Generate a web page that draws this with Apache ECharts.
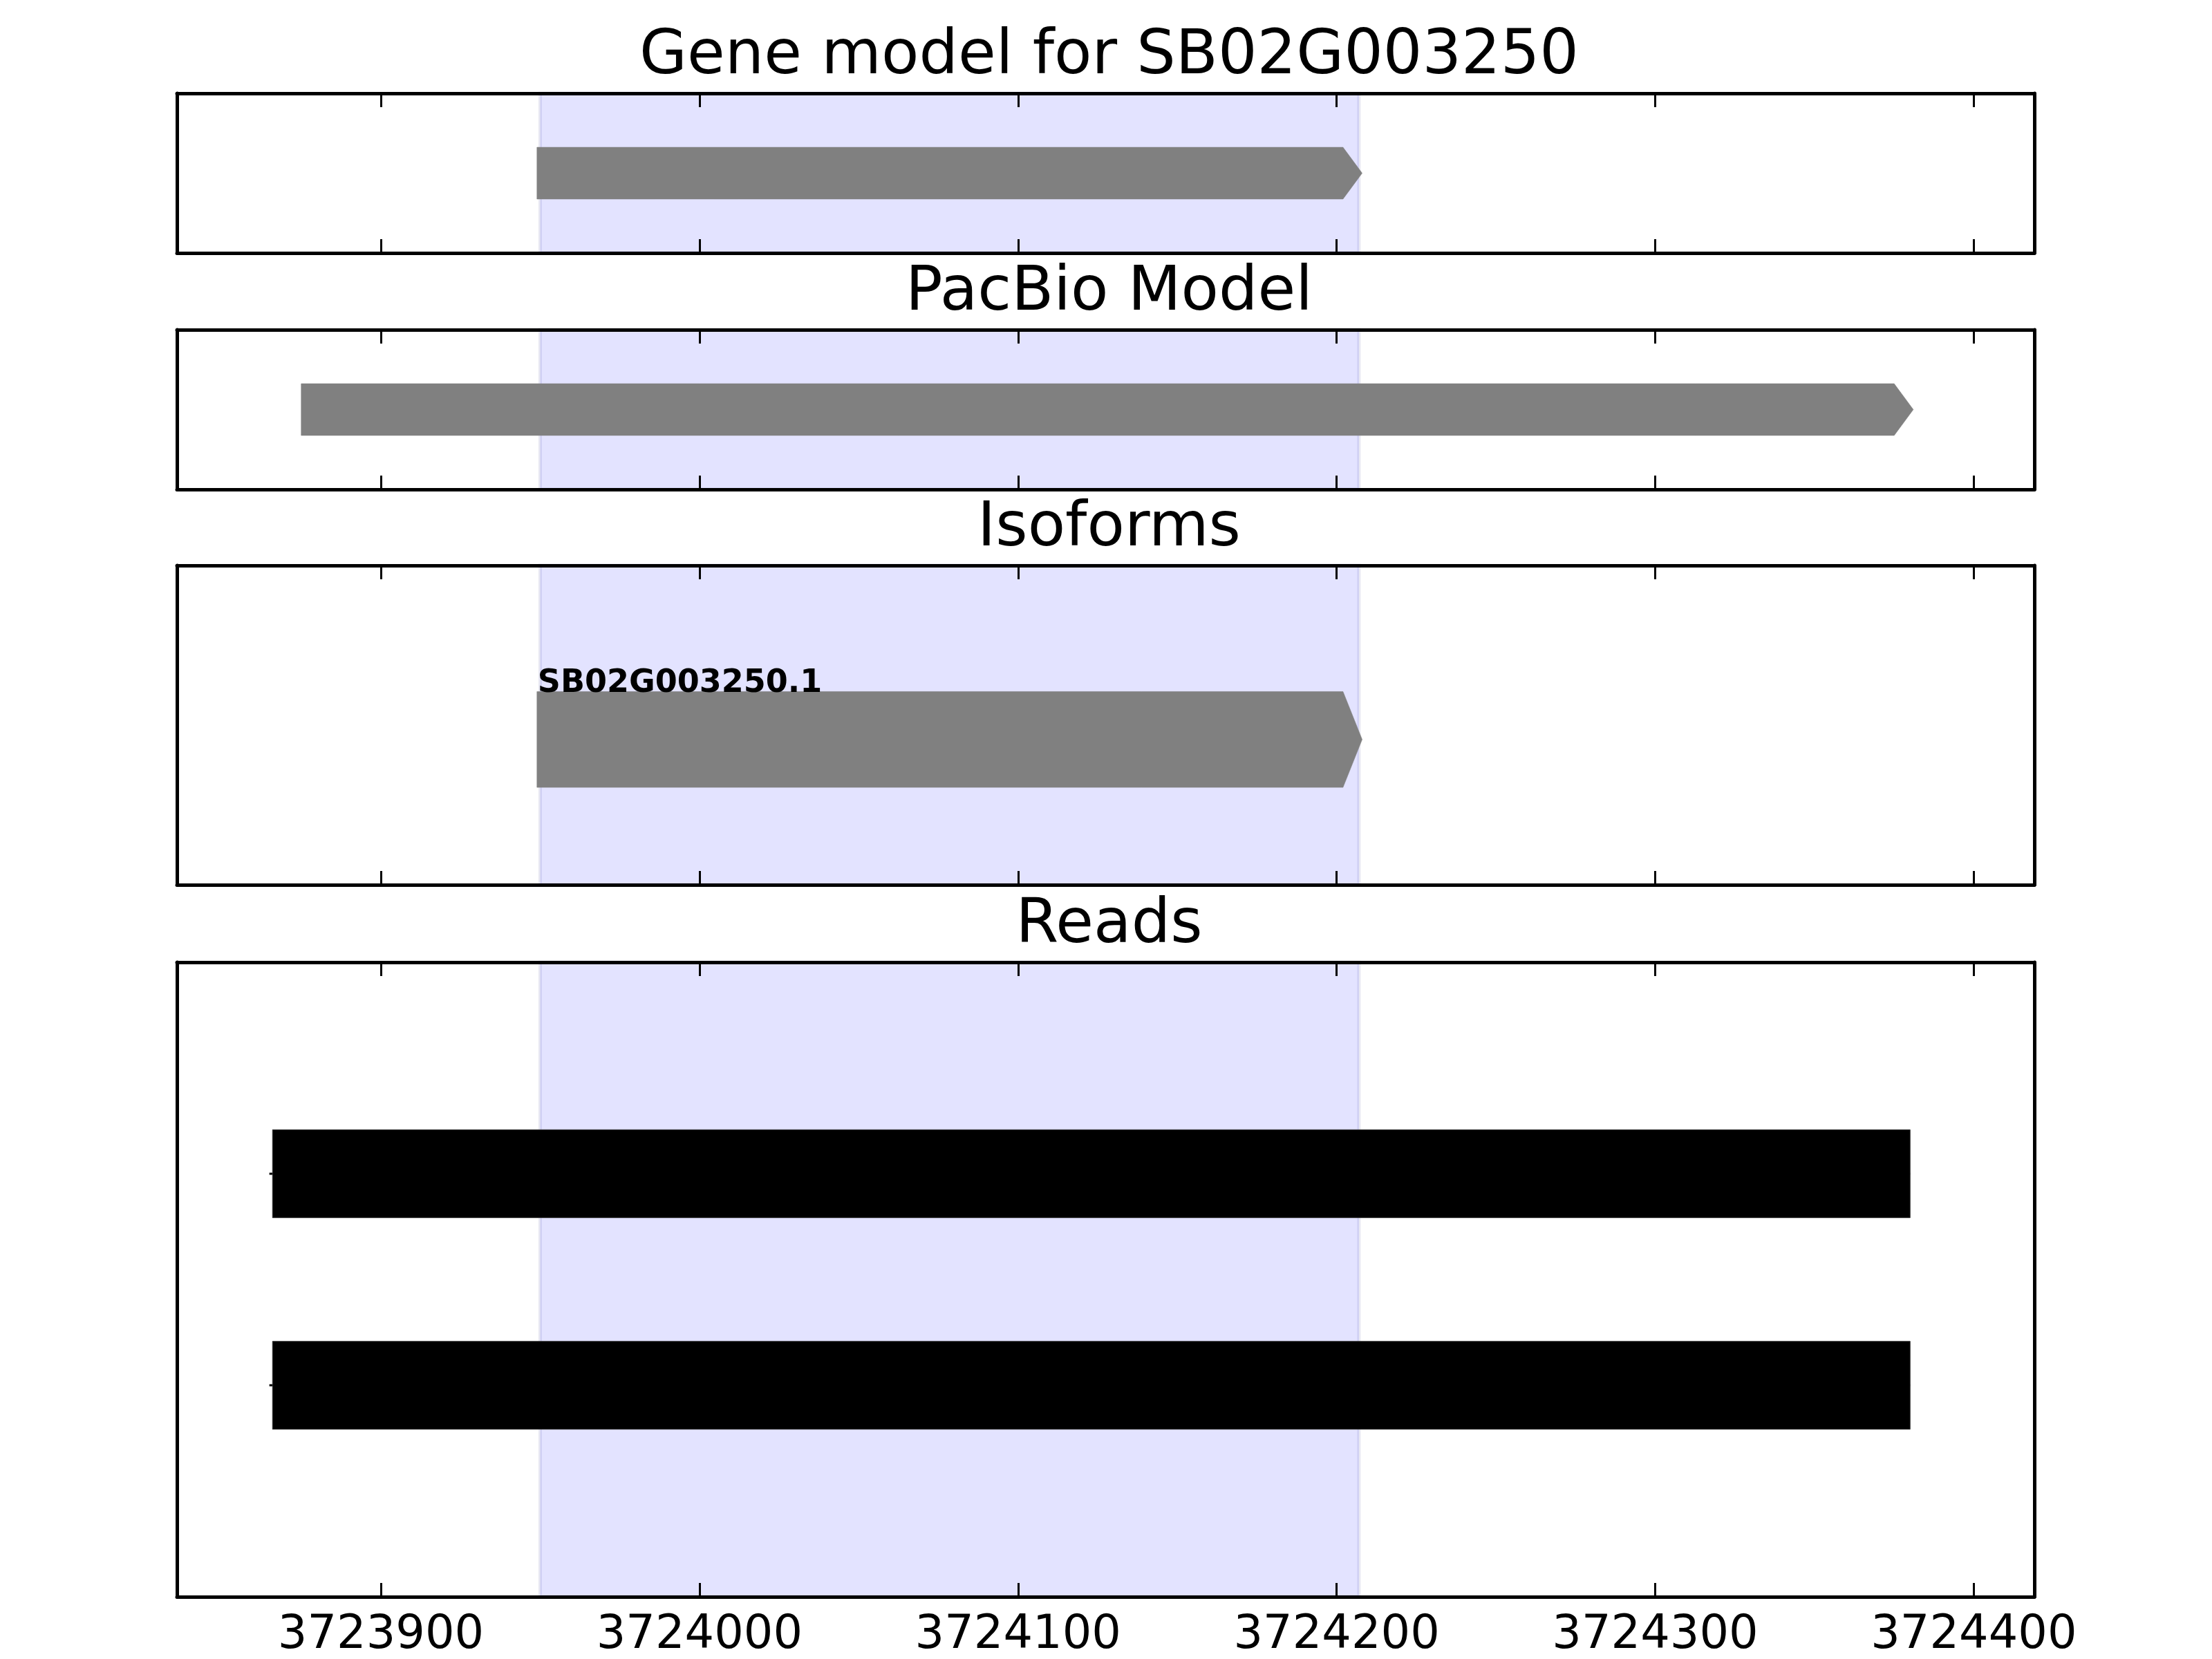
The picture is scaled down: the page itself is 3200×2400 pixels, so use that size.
<!DOCTYPE html>
<html>
<head>
<meta charset="utf-8">
<script src="https://cdn.jsdelivr.net/npm/echarts@6/dist/echarts.min.js"></script>
<style>
html,body{margin:0;padding:0;background:#fff;}
#chart{width:3200px;height:2400px;}
</style>
</head>
<body>
<div id="chart"></div>
<script>
// ---- data ----
const panelTitles = ['Gene model for SB02G003250', 'PacBio Model', 'Isoforms', 'Reads'];
const xMin = 3723836;
const xMax = 3724419;
const tickValues = [3723900, 3724000, 3724100, 3724200, 3724300, 3724400];
const shadeStart = 3723950;
const shadeEnd = 3724207;

const geneStart = [3723949];
const geneEnd = [3724208];

const pacbioStart = [3723875];
const pacbioEnd = [3724381];

const isoformNames = ['SB02G003250.1'];
const isoformStart = [3723949];
const isoformEnd = [3724208];

const readLineStart = [3723865, 3723865];
const readStart = [3723866, 3723866];
const readEnd = [3724380, 3724380];
const readRow = [2, 1];

// ---- layout ----
const gridLeft = 256, gridWidth = 2687;
const gridTops = [135, 477, 818, 1392];
const gridHeights = [231, 231, 462, 920];
const yRanges = [[0, 1], [0, 1], [0, 1], [0, 3]];
const arrowCenter = [0.5, 0.5, 0.455, null];
const arrowHeight = [0.324, 0.324, 0.3, 0.416];
const headLen = 6;
const FONT = 'DejaVu Sans';

const chart = echarts.init(document.getElementById('chart'), null, {renderer: 'canvas', width: 3200, height: 2400});

const grids = [], xAxes = [], yAxes = [], series = [], titles = [];
const axLine = {show: true, onZero: false, lineStyle: {color: '#000', width: 5}};

for (let i = 0; i < 4; i++) {
  grids.push({left: gridLeft, top: gridTops[i], width: gridWidth, height: gridHeights[i], containLabel: false});
  ['bottom', 'top'].forEach(pos => {
    xAxes.push({
      gridIndex: i, type: 'value', min: xMin, max: xMax, position: pos, z: 10,
      axisLine: axLine,
      axisTick: {show: true, inside: true, length: 20, lineStyle: {color: '#000', width: 3}, customValues: tickValues},
      axisLabel: {show: (i === 3 && pos === 'bottom'), customValues: tickValues, margin: 23,
        color: '#000', fontFamily: FONT, fontSize: 67, formatter: v => String(v)},
      splitLine: {show: false}
    });
  });
  ['left', 'right'].forEach(pos => {
    yAxes.push({
      gridIndex: i, type: 'value', min: yRanges[i][0], max: yRanges[i][1], position: pos, z: 10,
      axisLine: axLine, axisTick: {show: false}, axisLabel: {show: false}, splitLine: {show: false}
    });
  });
  titles.push({
    text: panelTitles[i], left: gridLeft + gridWidth / 2, textAlign: 'center',
    top: gridTops[i] - 26 - 81,
    textStyle: {fontFamily: FONT, fontSize: 89, fontWeight: 'normal', color: '#000', lineHeight: 100}
  });
  // shaded gene region
  series.push({
    type: 'custom', xAxisIndex: i * 2, yAxisIndex: i * 2, z: 1, silent: true,
    data: [[shadeStart, shadeEnd, yRanges[i][0], yRanges[i][1]]],
    renderItem: (params, api) => {
      const a = api.coord([api.value(0), api.value(3)]);
      const b = api.coord([api.value(1), api.value(2)]);
      return {type: 'rect', shape: {x: a[0], y: a[1], width: b[0] - a[0], height: b[1] - a[1]},
        style: {fill: 'rgba(0,0,255,0.11)', stroke: 'rgba(40,40,140,0.10)', lineWidth: 5}};
    }
  });
}

function arrowRender(withLabel, labels) {
  return (params, api) => {
    const s = api.value(0), e = api.value(1), yc = api.value(2), h = api.value(3);
    const p0 = api.coord([s, yc + h / 2]);
    const p1 = api.coord([e, yc - h / 2]);
    const mid = api.coord([e, yc]);
    const hp = api.size([headLen, 0])[0];
    const children = [{
      type: 'polygon',
      shape: {points: [[p0[0], p0[1]], [p1[0] - hp, p0[1]], [p1[0], mid[1]], [p1[0] - hp, p1[1]], [p0[0], p1[1]]]},
      style: {fill: '#808080', stroke: 'rgba(128,128,128,0.6)', lineWidth: 1}
    }];
    if (withLabel) {
      children.push({
        type: 'text', x: p0[0] + 1, y: p0[1] + 12,
        style: {text: labels[params.dataIndex], fill: '#000', font: 'bold 46px "DejaVu Sans"',
          align: 'left', verticalAlign: 'bottom'}
      });
    }
    return {type: 'group', children};
  };
}

series.push({
  type: 'custom', xAxisIndex: 0, yAxisIndex: 0, z: 3, silent: true,
  data: geneStart.map((s, k) => [s, geneEnd[k], arrowCenter[0], arrowHeight[0]]),
  renderItem: arrowRender(false)
});
series.push({
  type: 'custom', xAxisIndex: 2, yAxisIndex: 2, z: 3, silent: true,
  data: pacbioStart.map((s, k) => [s, pacbioEnd[k], arrowCenter[1], arrowHeight[1]]),
  renderItem: arrowRender(false)
});
series.push({
  type: 'custom', xAxisIndex: 4, yAxisIndex: 4, z: 3, silent: true,
  data: isoformStart.map((s, k) => [s, isoformEnd[k], arrowCenter[2], arrowHeight[2]]),
  renderItem: arrowRender(true, isoformNames)
});
series.push({
  type: 'custom', xAxisIndex: 6, yAxisIndex: 6, z: 3, silent: true,
  data: readStart.map((s, k) => [s, readEnd[k], readRow[k], arrowHeight[3], readLineStart[k]]),
  renderItem: (params, api) => {
    const s = api.value(0), e = api.value(1), yc = api.value(2), h = api.value(3), ls = api.value(4);
    const a = api.coord([s, yc + h / 2]);
    const b = api.coord([e, yc - h / 2]);
    const l0 = api.coord([ls, yc]);
    return {type: 'group', children: [
      {type: 'line', shape: {x1: l0[0], y1: l0[1], x2: b[0], y2: l0[1]}, style: {stroke: '#000', lineWidth: 3}},
      {type: 'rect', shape: {x: a[0], y: a[1], width: b[0] - a[0], height: b[1] - a[1]},
        style: {fill: '#000', stroke: '#333', lineWidth: 1}}
    ]};
  }
});

chart.setOption({
  animation: false,
  backgroundColor: '#fff',
  title: titles,
  grid: grids,
  xAxis: xAxes,
  yAxis: yAxes,
  series: series
});
</script>
</body>
</html>
